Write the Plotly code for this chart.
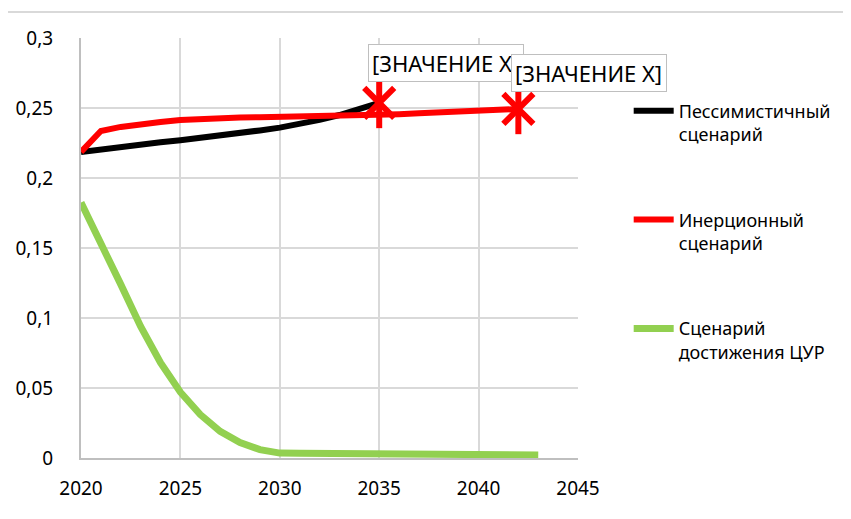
import plotly.graph_objects as go

# Data
years_pess = list(range(2020, 2036))
pess = [0.2186, 0.2205, 0.2225, 0.2240, 0.2255, 0.2270, 0.2285, 0.2305, 0.2320, 0.2340,
        0.2360, 0.2385, 0.2415, 0.2450, 0.2490, 0.2536]

years_iner = list(range(2020, 2043))
iner = [0.2186, 0.2336, 0.2365, 0.2385, 0.2400, 0.2414, 0.2422, 0.2428, 0.2432, 0.2434,
        0.2436, 0.2438, 0.2440, 0.2443, 0.2446, 0.2450, 0.2456, 0.2462, 0.2467, 0.2472,
        0.2476, 0.2482, 0.2493]

years_cur = list(range(2020, 2044))
cur = [0.1825, 0.1520, 0.1240, 0.0940, 0.0680, 0.0470, 0.0310, 0.0190, 0.0110, 0.0060,
       0.0035, 0.0034, 0.0033, 0.0032, 0.0031, 0.0030, 0.0028, 0.0027, 0.0026, 0.0025,
       0.0024, 0.0023, 0.0022, 0.0021]

names = ["Пессимистичный<br>сценарий", "Инерционный<br>сценарий", "Сценарий<br>достижения ЦУР"]
colors = ["#000000", "#ff0000", "#92d050"]
label_text = "[ЗНАЧЕНИЕ X]"

x_ticks = [2020, 2025, 2030, 2035, 2040, 2045]
y_ticks = [0, 0.05, 0.1, 0.15, 0.2, 0.25, 0.3]
y_ticklabels = ["0", "0,05", "0,1", "0,15", "0,2", "0,25", "0,3"]

font = "Noto Sans"

fig = go.Figure()

series = [(years_pess, pess), (years_iner, iner), (years_cur, cur)]
for i, (xs, ys) in enumerate(series):
    fig.add_trace(go.Scatter(
        x=xs, y=ys, mode="lines", name=names[i],
        legendgroup=str(i),
        line=dict(color=colors[i], width=6 if i < 2 else 7),
    ))

# star markers at end of first two series (x + vertical bar)
for xs, ys in series[:2]:
    for sym in ["x-thin-open", "line-ns-open"]:
        fig.add_trace(go.Scatter(
            x=[xs[-1]], y=[ys[-1]], mode="markers", showlegend=False,
            marker=dict(symbol=sym, size=30 if sym == "x-thin-open" else 36,
                        color="#ff0000", line=dict(color="#ff0000", width=6)),
        ))

# data labels
shifts = [(67, 40), (71, 36)]
for (xs, ys), (dx, dy) in zip(series[:2], shifts):
    fig.add_annotation(
        x=xs[-1], y=ys[-1], xref="x", yref="y",
        text=label_text, showarrow=False,
        xshift=dx, yshift=dy, width=148, height=30, align="left",
        bgcolor="white", bordercolor="#bfbfbf", borderwidth=1, borderpad=3,
        font=dict(family=font, size=22, color="#000000"),
    )

# outer chart border (top and left visible)
fig.add_shape(type="line", xref="paper", yref="paper", x0=-0.149, x1=1.6, y0=1.062, y1=1.062,
              line=dict(color="#d9d9d9", width=2))
fig.add_shape(type="line", xref="paper", yref="paper", x0=-0.149, x1=-0.149, y0=1.062, y1=-0.2,
              line=dict(color="#d9d9d9", width=2))

fig.update_layout(
    width=843, height=511,
    margin=dict(l=73, r=273, t=30, b=61),
    paper_bgcolor="white", plot_bgcolor="white",
    font=dict(family=font, size=19, color="#000000"),
    showlegend=True,
    legend=dict(x=1.102, y=0.87, xanchor="left", yanchor="top",
                font=dict(family=font, size=18, color="#000000"),
                tracegroupgap=59, valign="top", itemwidth=40,
                bgcolor="rgba(0,0,0,0)"),
)
fig.update_xaxes(range=[2020, 2045], tickvals=x_ticks, showgrid=True, gridcolor="#d9d9d9",
                 gridwidth=1.5, showline=True, linecolor="#bfbfbf", linewidth=2,
                 zeroline=False, ticks="", ticklabelstandoff=12, automargin=False)
fig.update_yaxes(range=[0, 0.3], tickvals=y_ticks, ticktext=y_ticklabels, showgrid=True,
                 gridcolor="#d9d9d9", gridwidth=1.5, showline=True, linecolor="#bfbfbf",
                 linewidth=2, zeroline=False, ticks="", ticklabelstandoff=22, automargin=False)

fig.write_html("out.html")
